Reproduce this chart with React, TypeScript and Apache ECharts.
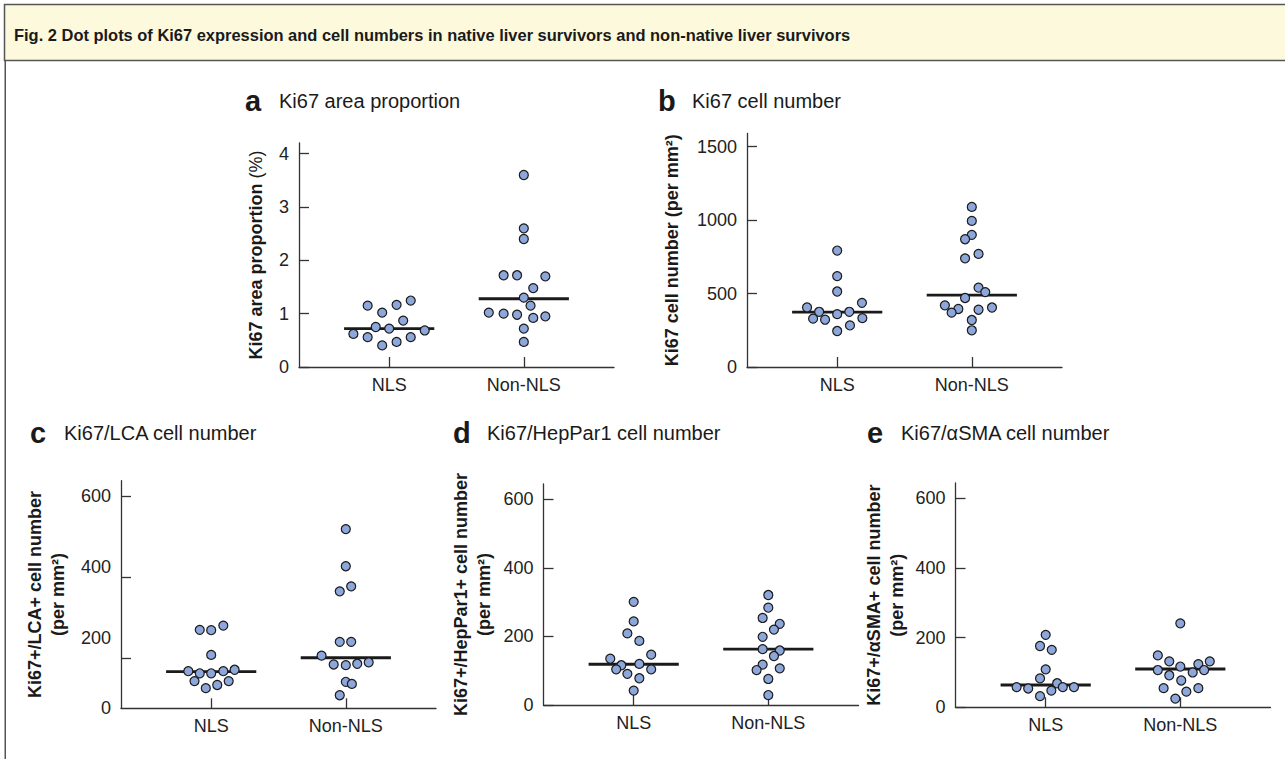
import React, { useEffect, useRef } from "react";
import * as echarts from "echarts";

const FONT = '"Liberation Sans", Arial, Helvetica, sans-serif';

const groups = ["NLS", "Non-NLS"];

// a: Ki67 area proportion (%)
const aNLS = [1.15, 1.165, 1.246, 1.02, 0.87, 0.75, 0.72, 0.62, 0.56, 0.56, 0.685, 0.47, 0.405];
const aNLSx = [-0.16, 0.055, 0.16, -0.052, 0.104, -0.1, 0, -0.266, -0.16, 0.16, 0.264, 0.055, -0.052];
const aNon = [3.6, 2.6, 2.4, 1.72, 1.72, 1.7, 1.48, 1.3, 1.02, 1.0, 0.98, 0.95, 0.92, 0.72, 0.47, 1.15];
const aNonX = [0, 0, 0, -0.15, -0.05, 0.16, 0.07, 0, -0.26, -0.15, -0.05, 0.16, 0.07, 0, 0, 0.05];
const aMed = [0.72, 1.28];

// b: Ki67 cell number (per mm2)
const bNLS = [793, 619, 514, 406, 437, 376, 329, 322, 360, 376, 333, 283, 245];
const bNLSx = [0, 0, 0, -0.224, 0.184, -0.134, -0.179, -0.09, 0, 0.09, 0.187, 0.095, 0];
const bNon = [1090, 995, 900, 870, 770, 740, 540, 510, 470, 420, 405, 395, 390, 370, 320, 250];
const bNonX = [0, 0, 0, -0.05, 0.05, -0.05, 0.05, 0.1, -0.05, -0.2, 0.15, -0.1, 0.05, -0.15, 0, 0];
const bMed = [374, 490];

// c: Ki67+/LCA+ cell number
const cNLS = [222, 221, 234, 151, 105, 99, 99, 105, 109, 77, 77, 57, 66];
const cNLSx = [-0.085, 0, 0.09, 0, -0.17, -0.085, 0, 0.09, 0.174, -0.124, 0.13, -0.04, 0.045];
const cNon = [507, 402, 331, 345, 188, 188, 149, 124, 122, 126, 130, 75, 69, 37];
const cNonX = [0, 0, -0.045, 0.04, -0.045, 0.04, -0.18, -0.09, 0, 0.085, 0.17, 0, 0.045, -0.045];
const cMed = [104, 143];

// d: Ki67+/HepPar1+ cell number
const dNLS = [301, 244, 209, 187, 147, 135, 116, 120, 104, 104, 91, 78, 42];
const dNLSx = [0, 0, -0.047, 0.042, 0.13, -0.174, -0.092, 0.042, -0.13, 0.13, -0.047, 0.042, 0];
const dNon = [321, 284, 254, 237, 220, 199, 163, 159, 143, 118, 102, 107, 76, 29];
const dNonX = [0, 0, -0.042, 0.085, 0.042, -0.042, -0.042, 0.085, 0.042, -0.042, -0.087, 0.085, 0, 0];
const dMed = [119, 163];

// e: Ki67+/αSMA+ cell number
const eNLS = [208, 176, 165, 109, 83, 69, 58, 54, 48, 58, 58, 32];
const eNLSx = [0, -0.042, 0.045, 0, -0.042, 0.085, -0.216, -0.13, 0.042, 0.127, 0.21, -0.042];
const eNon = [241, 149, 132, 117, 124, 132, 107, 92, 100, 107, 77, 55, 45, 55, 25];
const eNonX = [0, -0.167, -0.082, 0, 0.134, 0.219, -0.167, -0.082, 0.092, 0.177, 0.007, -0.124, 0.045, 0.134, -0.037];
const eMed = [64, 110];

const aTicks = [0, 1, 2, 3, 4];
const cellTicks = [0, 500, 1000, 1500];
const smallTicks = [0, 200, 400, 600];
const cTickMarks = [143, 372, 600];

const HEADER = "Fig. 2 Dot plots of Ki67 expression and cell numbers in native liver survivors and non-native liver survivors";

const panels = [
  {
    letter: "a", title: "Ki67 area proportion",
    yName: "{b|Ki67 area proportion }{n|(%)}",
    nls: aNLS, nlsX: aNLSx, non: aNon, nonX: aNonX, med: aMed,
    ticks: aTicks, tickMarks: aTicks, yMax: 4.2,
    grid: { left: 299, top: 143, width: 315, height: 224 }, nameGap: 32,
    titleX: 245, titleY: 101,
  },
  {
    letter: "b", title: "Ki67 cell number",
    yName: "{b|Ki67 cell number (per mm²)}",
    nls: bNLS, nlsX: bNLSx, non: bNon, nonX: bNonX, med: bMed,
    ticks: cellTicks, tickMarks: cellTicks, yMax: 1590,
    grid: { left: 747, top: 133.5, width: 315, height: 233.5 }, nameGap: 64,
    titleX: 658, titleY: 101,
  },
  {
    letter: "c", title: "Ki67/LCA cell number",
    yName: "{b|Ki67+/LCA+ cell number}\n{b|(per mm²)}",
    nls: cNLS, nlsX: cNLSx, non: cNon, nonX: cNonX, med: cMed,
    ticks: smallTicks, tickMarks: cTickMarks, yMax: 644,
    grid: { left: 121, top: 480.7, width: 315, height: 227.6 }, nameGap: 52,
    titleX: 30, titleY: 433,
  },
  {
    letter: "d", title: "Ki67/HepPar1 cell number",
    yName: "{b|Ki67+/HepPar1+ cell number}\n{b|(per mm²)}",
    nls: dNLS, nlsX: dNLSx, non: dNon, nonX: dNonX, med: dMed,
    ticks: smallTicks, tickMarks: smallTicks, yMax: 645,
    grid: { left: 543.5, top: 484, width: 315, height: 221 }, nameGap: 48,
    titleX: 453, titleY: 433,
  },
  {
    letter: "e", title: "Ki67/αSMA cell number",
    yName: "{b|Ki67+/αSMA+ cell number}\n{b|(per mm²)}",
    nls: eNLS, nlsX: eNLSx, non: eNon, nonX: eNonX, med: eMed,
    ticks: smallTicks, tickMarks: smallTicks, yMax: 644,
    grid: { left: 955.5, top: 483, width: 315, height: 224.3 }, nameGap: 47,
    titleX: 867, titleY: 433,
  },
];

const AXIS_COLOR = "#333";
const DOT_FILL = "#8ea7da";
const HALF = 0.335;

function measure(text: string, font: string): number {
  try {
    const ctx = document.createElement("canvas").getContext("2d");
    if (!ctx) return 0;
    ctx.font = font;
    return ctx.measureText(text).width;
  } catch (e) {
    return 0;
  }
}

export default function App() {
  const ref = useRef<HTMLDivElement>(null);
  useEffect(() => {
    if (!ref.current) return;
    const chart = echarts.init(ref.current, undefined, { renderer: "svg" });
    const grid: any[] = [];
    const xAxis: any[] = [];
    const yAxis: any[] = [];
    const series: any[] = [];
    const headerFont = `bold 17px ${FONT}`;
    const w = measure(HEADER, headerFont);
    const sx = w > 0 ? 837 / w : 0.85;
    const graphic: any[] = [
      {
        type: "rect", shape: { x: 4.5, y: 4.5, width: 1290, height: 56 },
        style: { fill: "#fdf9dc", stroke: "#555", lineWidth: 1.5 }, z: 0,
      },
      {
        type: "line", shape: { x1: 5.25, y1: 60, x2: 5.25, y2: 759 },
        style: { stroke: "#555", lineWidth: 1.5 },
      },
      {
        type: "text", x: 14, y: 35, scaleX: sx,
        style: { text: HEADER, font: headerFont, fill: "#1a1a1a", verticalAlign: "middle" },
      },
    ];
    panels.forEach((p, i) => {
      grid.push({ ...p.grid, containLabel: false });
      xAxis.push({
        gridIndex: i, type: "value", min: 0.33, max: 2.67,
        axisLine: { show: true, onZero: false, lineStyle: { color: AXIS_COLOR, width: 1.3 } },
        axisTick: { show: true, inside: true, length: 10, customValues: [1, 2], lineStyle: { color: AXIS_COLOR, width: 1.3 } },
        axisLabel: {
          show: true, customValues: [1, 2], margin: 9, fontSize: 18, color: "#222", fontFamily: FONT,
          formatter: (v: number) => groups[Math.round(v) - 1] ?? "",
        },
        splitLine: { show: false },
      });
      yAxis.push({
        gridIndex: i, type: "value", min: 0, max: p.yMax,
        axisLine: { show: true, onZero: false, lineStyle: { color: AXIS_COLOR, width: 1.3 } },
        axisTick: { show: true, inside: true, length: 10, customValues: p.tickMarks, lineStyle: { color: AXIS_COLOR, width: 1.3 } },
        axisLabel: {
          show: true, customValues: p.ticks, margin: 10, fontSize: 18, color: "#222", fontFamily: FONT,
          formatter: (v: number) => String(v),
        },
        splitLine: { show: false },
        name: p.yName, nameLocation: "middle", nameGap: p.nameGap, nameRotate: 90,
        nameTextStyle: {
          fontFamily: FONT, color: "#1a1a1a", lineHeight: 23,
          rich: {
            b: { fontWeight: "bold", fontSize: 18, fontFamily: FONT, color: "#1a1a1a", lineHeight: 23 },
            n: { fontWeight: "normal", fontSize: 18, fontFamily: FONT, color: "#1a1a1a", lineHeight: 23 },
          },
        },
      });
      [0, 1].forEach((g) => {
        const m = p.med[g];
        series.push({
          type: "line", xAxisIndex: i, yAxisIndex: i, symbol: "none", z: 2,
          lineStyle: { color: "#1a1a1a", width: 2.8 },
          data: [[g + 1 - HALF, m], [g + 1 + HALF, m]],
          silent: true,
        });
      });
      const mk = (vals: number[], offs: number[], g: number) =>
        vals.map((v, k) => [g + 1 + (offs[k] ?? 0), v]);
      series.push({
        type: "scatter", xAxisIndex: i, yAxisIndex: i, z: 3, symbolSize: 9,
        itemStyle: { color: DOT_FILL, borderColor: "#1a1a1a", borderWidth: 1.2, opacity: 1 },
        data: [...mk(p.nls, p.nlsX, 0), ...mk(p.non, p.nonX, 1)],
      });
      graphic.push({
        type: "text", x: p.titleX, y: p.titleY,
        style: { text: p.letter, font: `bold 29px ${FONT}`, fill: "#1a1a1a", verticalAlign: "middle" },
      });
      graphic.push({
        type: "text", x: p.titleX + 34, y: p.titleY,
        style: { text: p.title, font: `20px ${FONT}`, fill: "#1a1a1a", verticalAlign: "middle" },
      });
    });
    chart.setOption({
      animation: false,
      backgroundColor: "#ffffff",
      grid, xAxis, yAxis, series, graphic,
    });
    return () => chart.dispose();
  }, []);
  return (
    <div
      ref={ref}
      style={{ position: "fixed", left: 0, top: 0, width: 1285, height: 759, background: "#fff" }}
    />
  );
}
